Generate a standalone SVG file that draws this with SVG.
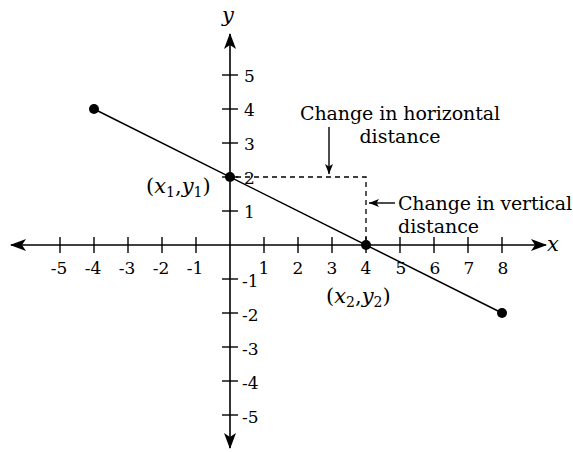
<svg xmlns="http://www.w3.org/2000/svg" width="573" height="452" viewBox="0 0 573 452">
<style>
.ax{stroke:#000;stroke-width:1.6;fill:none}
.tk{stroke:#000;stroke-width:1.4}
.t{font-family:"DejaVu Serif","Liberation Serif",serif;font-size:17px;fill:#000}
.c{text-anchor:middle}
.lbl{font-family:"DejaVu Serif","Liberation Serif",serif;font-size:19px;fill:#000}
.pl{font-family:"DejaVu Serif","Liberation Serif",serif;font-size:21px;fill:#000}
.it{font-style:italic}
.dash{stroke:#000;stroke-width:1.3;stroke-dasharray:5 4;fill:none}
</style>
<defs>
<marker id="big" viewBox="0 0 16 12" refX="15" refY="6" markerWidth="16" markerHeight="12" markerUnits="userSpaceOnUse" orient="auto">
<path d="M0,0 L16,6 L0,12 L4,6 Z" fill="#000"/>
</marker>
<marker id="sm" viewBox="0 0 10 8" refX="10" refY="4" markerWidth="10" markerHeight="8" markerUnits="userSpaceOnUse" orient="auto">
<path d="M0,0 L10,4 L0,8 L2.5,4 Z" fill="#000"/>
</marker>
</defs>
<g id="axes">
<line class="ax" x1="230" y1="245" x2="11" y2="245" marker-end="url(#big)"/>
<line class="ax" x1="230" y1="245" x2="546" y2="245" marker-end="url(#big)"/>
<line class="ax" x1="230" y1="245" x2="230" y2="34" marker-end="url(#big)"/>
<line class="ax" x1="230" y1="245" x2="230" y2="448" marker-end="url(#big)"/>
<g class="tk">
<line x1="60" y1="237" x2="60" y2="253"/><line x1="94" y1="237" x2="94" y2="253"/><line x1="128" y1="237" x2="128" y2="253"/><line x1="162" y1="237" x2="162" y2="253"/><line x1="196" y1="237" x2="196" y2="253"/>
<line x1="264" y1="237" x2="264" y2="253"/><line x1="298" y1="237" x2="298" y2="253"/><line x1="332" y1="237" x2="332" y2="253"/><line x1="366" y1="237" x2="366" y2="253"/><line x1="400" y1="237" x2="400" y2="253"/><line x1="434" y1="237" x2="434" y2="253"/><line x1="468" y1="237" x2="468" y2="253"/><line x1="502" y1="237" x2="502" y2="253"/>
<line x1="222" y1="75" x2="238" y2="75"/><line x1="222" y1="109" x2="238" y2="109"/><line x1="222" y1="143" x2="238" y2="143"/><line x1="222" y1="177" x2="238" y2="177"/><line x1="222" y1="211" x2="238" y2="211"/>
<line x1="222" y1="279" x2="238" y2="279"/><line x1="222" y1="313" x2="238" y2="313"/><line x1="222" y1="347" x2="238" y2="347"/><line x1="222" y1="381" x2="238" y2="381"/><line x1="222" y1="415" x2="238" y2="415"/>
</g>
<g class="t c">
<text x="59" y="274">-5</text><text x="93" y="274">-4</text><text x="127" y="274">-3</text><text x="161" y="274">-2</text><text x="195" y="274">-1</text>
<text x="264" y="274">1</text><text x="298" y="274">2</text><text x="332" y="274">3</text><text x="366" y="274">4</text><text x="401" y="274">5</text><text x="435" y="274">6</text><text x="469" y="274">7</text><text x="503" y="274">8</text>
</g>
<g class="t">
<text x="244" y="82">5</text><text x="244" y="116">4</text><text x="244" y="150">3</text><text x="244" y="184">2</text><text x="244" y="218">1</text>
<text x="242" y="287">-1</text><text x="242" y="321">-2</text><text x="242" y="355">-3</text><text x="242" y="389">-4</text><text x="242" y="423">-5</text>
</g>
<text class="pl it" x="222" y="22">y</text>
<text class="pl it" x="547" y="251">x</text>
</g>
<g id="line">
<line x1="94" y1="109" x2="502" y2="313" stroke="#000" stroke-width="1.5"/>
<circle cx="94" cy="109" r="5"/>
<circle cx="230" cy="177" r="5"/>
<circle cx="366" cy="245" r="5"/>
<circle cx="502" cy="313" r="5"/>
</g>
<g id="run-rise">
<path class="dash" d="M236,177 H366 V240"/>
</g>
<g id="point1">
<text class="pl" x="146" y="193">(<tspan class="it">x</tspan><tspan font-size="14" dy="4">1</tspan><tspan dy="-4">,</tspan><tspan class="it">y</tspan><tspan font-size="14" dy="4">1</tspan><tspan dy="-4">)</tspan></text>
</g>
<g id="point2">
<text class="pl" x="326" y="303">(<tspan class="it">x</tspan><tspan font-size="14" dy="4">2</tspan><tspan dy="-4">,</tspan><tspan class="it">y</tspan><tspan font-size="14" dy="4">2</tspan><tspan dy="-4">)</tspan></text>
</g>
<g id="horiz-label">
<text class="lbl" x="300" y="120" textLength="200">Change in horizontal</text>
<text class="lbl c" x="400" y="143">distance</text>
</g>
<g id="vert-label">
<text class="lbl" x="398" y="210" textLength="174">Change in vertical</text>
<text class="lbl" x="398" y="233">distance</text>
</g>
<g id="connectors">
<line x1="329" y1="127" x2="329" y2="174" stroke="#000" stroke-width="1.4" marker-end="url(#sm)"/>
<line x1="395" y1="203" x2="369" y2="203" stroke="#000" stroke-width="1.4" marker-end="url(#sm)"/>
</g>
</svg>
